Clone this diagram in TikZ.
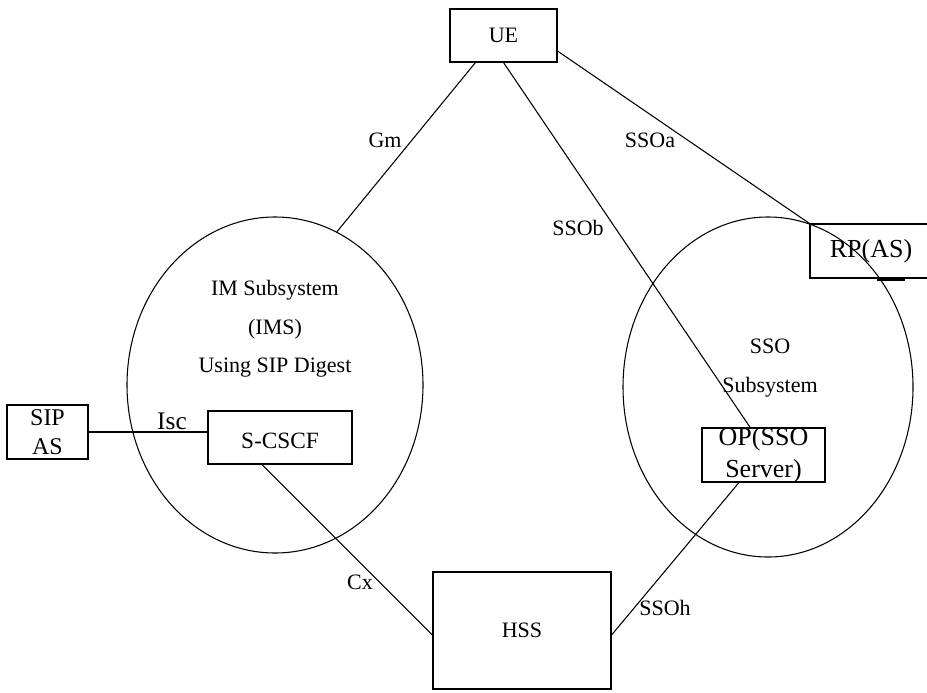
\documentclass[tikz,border=0pt]{standalone}
\usepackage{fontspec}
\setmainfont{Liberation Serif}
\usetikzlibrary{shapes.geometric}

\begin{document}
\begin{tikzpicture}[x=0.75pt,y=-0.75pt,line width=0.8pt,
  font=\fontsize{16.5}{22}\selectfont,
  box/.style={draw,rectangle,inner sep=0pt,align=center},
  blob/.style={draw,ellipse,inner sep=0pt},
  big/.style={font=\fontsize{19.5}{24}\selectfont}]
\useasboundingbox (0,0) rectangle (927,692);

% define the two subsystems
  \node[blob, minimum width=222pt, minimum height=252pt]   (ims) at (275,385) {};
  \node[blob, minimum width=217.5pt, minimum height=255pt] (sso) at (768,387) {};
  \node[align=center, font=\fontsize{16.5}{29}\selectfont] (imstext) at (275,329) {IM Subsystem\\(IMS)\\Using SIP Digest};
  \node[align=center, font=\fontsize{16.5}{29}\selectfont] (ssotext) at (770,368) {SSO\\Subsystem};

% define the boxes
  \node[box, minimum width=80.25pt, minimum height=39.75pt]  (ue)    at (503.5,35.5) {UE};
  \node[box, big, minimum width=91.5pt, minimum height=40.5pt] (rp)  at (871,251)    {RP(AS)};
  \node[box, inner ysep=-3pt, minimum width=60.75pt, minimum height=40.5pt, font=\fontsize{18}{22}\selectfont] (sip) at (47.5,432) {SIP\\AS};
  \node[box, minimum width=108pt, minimum height=39.75pt, font=\fontsize{17.5}{22}\selectfont,
        text height=1.6em, text depth=0pt]                   (scscf) at (280,437.5)  {S-CSCF};
  \node[box, big, inner ysep=-4pt, minimum width=92.25pt, minimum height=40.5pt] (op) at (763.5,455) {OP(SSO\\Server)};
  \node[box, minimum width=133.5pt, minimum height=87.75pt]  (hss)   at (522,630.5)  {HSS};
  \draw[line width=2pt] (877,280) -- (905,280);

% define the links
  \draw ([xshift=19.5pt]ue.south west) -- (ims.68);
  \draw ([yshift=8.6pt]ue.south east) -- (rp.north west);
  \draw (ue.south) -- ([xshift=-10pt]op.north);
  \draw (sip.east) -- (sip.east -| scscf.west);
  \draw ([xshift=-13.5pt]scscf.south) -- ([yshift=-3.4pt]hss.west);
  \draw ([xshift=-18.4pt]op.south) -- ([yshift=-3.4pt]hss.east);

% link labels
  \node (gm)   at (385,140) {Gm};
  \node (ssoa) at (650,140) {SSOa};
  \node (ssob) at (578,228) {SSOb};
  \node[font=\fontsize{19}{22}\selectfont] (isc) at (172,421) {Isc};
  \node (cx)   at (360,582) {Cx};
  \node (ssoh) at (665,608) {SSOh};
\end{tikzpicture}
\end{document}
